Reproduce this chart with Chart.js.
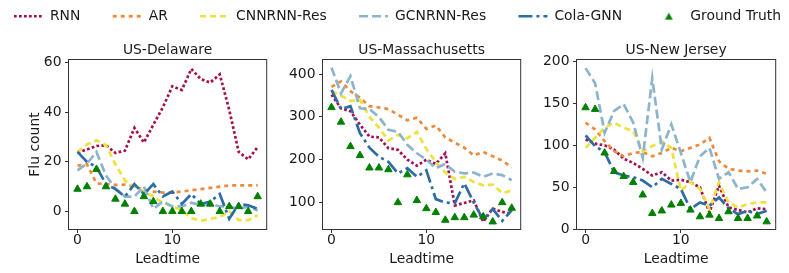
<!DOCTYPE html>
<html>
<head>
<meta charset="utf-8">
<script src="https://cdn.jsdelivr.net/npm/chart.js@4.4.0/dist/chart.umd.min.js"></script>
<style>
  body { margin: 0; background: #fff; }
  #wrap { position: relative; width: 789px; height: 273px; overflow: hidden; }
  canvas { position: absolute; }
</style>
</head>
<body>
<div id="wrap">
  <canvas id="legend" width="843" height="90" style="left:-24px;top:-23px"></canvas>
  <canvas id="c0" width="272" height="233" style="left:0;top:40px"></canvas>
  <canvas id="c1" width="254" height="233" style="left:272px;top:40px"></canvas>
  <canvas id="c2" width="255" height="233" style="left:526px;top:40px"></canvas>
</div>
<script>
// x values (leadtime)
var leadtime = [0, 1, 2, 3, 4, 5, 6, 7, 8, 9, 10, 11, 12, 13, 14, 15, 16, 17, 18, 19];
var seriesNames = ['RNN', 'AR', 'CNNRNN-Res', 'GCNRNN-Res', 'Cola-GNN', 'Ground Truth'];
var regionNames = ['US-Delaware', 'US-Massachusetts', 'US-New Jersey'];

// US-Delaware
var deRNN    = [23.8, 25, 26.4, 26.7, 23.6, 24.5, 33.7, 27.8, 35, 42, 50.5, 49, 57.5, 53.4, 52, 55.3, 41, 24, 21, 26];
var deAR     = [18.5, 19, 11.3, 11, 10.7, 10.8, 10, 8.8, 8, 7.6, 7.6, 8, 8.5, 9, 9.5, 10, 10.5, 10.5, 10.5, 10.5];
var deCNNRNN = [24, 27, 28.7, 26.7, 19, 12.5, 10, 8, 6, 3.5, 2, 0.5, -2.7, -3.8, -3, -2.3, 0, -3.5, -3.5, -1.5];
var deGCNRNN = [16.6, 19.3, 24, 14.5, 9.2, 6, 6, 10, 1, 4, 2, 2, 3.5, 2.5, 3, 2, 2, 1, 2, 0.4];
var deCola   = [24, 20, 18, 11, 9, 6, 11, 7, 11, 6, 8, 3, 7, 3, 4, 7, -3, 3, 2.5, 1];
var deTruth  = [9, 10, 17, 10, 5, 3, 0, 6, 4, 0, 0, 0, 0, 3, 3, 0, 2, 2, 0, 6];

// US-Massachusetts
var maRNN    = [352, 320, 313, 282, 254, 252, 227, 223, 200, 186, 200, 190, 215, 93, 99, 105, 55, 86, 78, 74];
var maAR     = [370, 383, 360, 345, 325, 322, 318, 305, 292, 298, 272, 280, 252, 240, 228, 210, 218, 208, 198, 182];
var maCNNRNN = [360, 350, 337, 340, 300, 275, 245, 258, 250, 265, 225, 195, 170, 155, 160, 148, 140, 142, 122, 128];
var maGCNRNN = [415, 355, 395, 320, 318, 300, 270, 265, 235, 215, 200, 180, 190, 172, 168, 170, 160, 168, 164, 152];
var maCola   = [363, 318, 325, 262, 228, 207, 195, 168, 180, 160, 175, 108, 100, 98, 145, 100, 60, 85, 57, 82];
var maTruth  = [322, 288, 231, 210, 181, 181, 177, 100, 165, 105, 86, 77, 59, 65, 65, 71, 67, 55, 100, 87];

// US-New Jersey
var njRNN    = [107, 102, 100, 95, 84, 79, 72, 64, 68, 58, 59, 56, 50, 20, 52, 26, 23, 20, 25, 24];
var njAR     = [127, 119, 105, 93, 87, 91, 92, 87, 91, 97, 93, 97, 101, 109, 81, 72, 70, 69, 70, 66];
var njCNNRNN = [97, 109, 121, 127, 121, 117, 93, 99, 105, 97, 46, 56, 48, 24, 56, 32, 26, 30, 32, 32];
var njGCNRNN = [192, 174, 115, 141, 149, 127, 85, 180, 95, 125, 91, 56, 87, 97, 60, 68, 48, 50, 60, 44];
var njCola   = [112, 99, 92, 68, 64, 62, 58, 50, 60, 54, 48, 24, 32, 28, 38, 25, 18, 22, 18, 22];
var njTruth  = [145, 143, 91, 69, 63, 56, 41, 19, 22, 29, 31, 23, 15, 17, 13, 21, 13, 13, 16, 9];

// tick labels
var xTicks = [0, 10];
var deTicks = [0, 20, 40, 60];
var maTicks = [100, 200, 300, 400];
var njTicks = [0, 50, 100, 150, 200];

Chart.defaults.font.family = 'DejaVu Sans';
Chart.defaults.font.size = 13.9;
Chart.defaults.color = '#1a1a1a';

var FS = 13.9;
var styles = [
  { borderColor: '#a50f4f', borderWidth: 2.7, borderDash: [2.7, 2.3] },
  { borderColor: '#f08a3b', borderWidth: 2.7, borderDash: [4, 4] },
  { borderColor: '#ece23e', borderWidth: 2.7, borderDash: [6, 4] },
  { borderColor: '#8cb4cc', borderWidth: 2.7, borderDash: [9, 4] },
  { borderColor: '#2e6da4', borderWidth: 2.7, borderDash: [14, 4, 3, 4] }
];
var truthColor = '#008000';

function makeDatasets(lines, truth, withOrder) {
  var ds = lines.map(function (vals, i) {
    var d = {
      label: seriesNames[i],
      data: vals,
      borderColor: styles[i].borderColor,
      backgroundColor: styles[i].borderColor,
      borderWidth: styles[i].borderWidth,
      borderDash: styles[i].borderDash,
      pointStyle: 'line',
      pointRadius: 0,
      pointHoverRadius: 0,
      tension: 0,
      fill: false
    };
    if (withOrder) d.order = 10 - i;
    return d;
  });
  var t = {
    label: seriesNames[5],
    data: truth,
    showLine: false,
    pointStyle: 'triangle',
    pointRadius: 4.3,
    pointHoverRadius: 4.3,
    pointBorderWidth: 1,
    borderWidth: 1,
    borderColor: truthColor,
    backgroundColor: truthColor,
    pointBackgroundColor: truthColor,
    pointBorderColor: truthColor
  };
  if (withOrder) t.order = 0;
  ds.push(t);
  return ds;
}

var framePlugin = {
  id: 'frame',
  afterDatasetsDraw: function (chart) {
    var a = chart.chartArea, ctx = chart.ctx;
    ctx.save();
    ctx.strokeStyle = '#333';
    ctx.lineWidth = 1;
    ctx.strokeRect(a.left, a.top, a.right - a.left, a.bottom - a.top);
    ctx.restore();
  }
};

function makePanel(id, title, lines, truth, yTicks, yMin, yMax, yWidth, padRight, yTitle) {
  new Chart(document.getElementById(id), {
    type: 'line',
    data: { labels: leadtime, datasets: makeDatasets(lines, truth, true) },
    plugins: [framePlugin],
    options: {
      responsive: false,
      animation: false,
      devicePixelRatio: 1,
      layout: { padding: { left: 0, right: padRight, top: 0, bottom: 0 } },
      plugins: {
        legend: { display: false },
        tooltip: { enabled: false },
        title: {
          display: true, text: title, color: '#1a1a1a', fullSize: false,
          font: { size: FS, weight: 'normal' },
          padding: { top: 2.5, bottom: 0.32 }
        }
      },
      scales: {
        x: {
          type: 'linear', min: -0.95, max: 19.95,
          afterBuildTicks: function (s) { s.ticks = xTicks.map(function (v) { return { value: v }; }); },
          afterFit: function (s) { s.height = 43.5; },
          grid: { drawOnChartArea: false, drawTicks: true, tickLength: 3.5, color: '#333' },
          border: { display: false },
          ticks: { padding: 0, maxRotation: 0, color: '#1a1a1a', font: { size: FS, lineHeight: 1 } },
          title: { display: true, text: 'Leadtime', color: '#1a1a1a', font: { size: FS }, padding: { top: 0, bottom: 4.8 } }
        },
        y: {
          min: yMin, max: yMax,
          afterBuildTicks: function (s) { s.ticks = yTicks.map(function (v) { return { value: v }; }); },
          afterFit: function (s) { s.width = yWidth; },
          grid: { drawOnChartArea: false, drawTicks: true, tickLength: 3.5, color: '#333' },
          border: { display: false },
          ticks: { padding: 3.5, color: '#1a1a1a', font: { size: FS } },
          title: { display: !!yTitle, text: yTitle || '', color: '#1a1a1a', font: { size: FS }, padding: { top: 26.6, bottom: 0 } }
        }
      }
    }
  });
}

makePanel('c0', regionNames[0], [deRNN, deAR, deCNNRNN, deGCNRNN, deCola], deTruth, deTicks, -7.3, 61.3, 68.5, 4.5, 'Flu count');
makePanel('c1', regionNames[1], [maRNN, maAR, maCNNRNN, maGCNRNN, maCola], maTruth, maTicks, 37, 434, 50.5, 4, null);
makePanel('c2', regionNames[2], [njRNN, njAR, njCNNRNN, njGCNRNN, njCola], njTruth, njTicks, -0.3, 202.3, 50.5, 4.5, null);

// small triangle marker for the legend (the built-in one stretches to pointStyleWidth)
var triIcon = document.createElement('canvas');
triIcon.width = 9; triIcon.height = 8;
(function () {
  var c = triIcon.getContext('2d');
  c.fillStyle = truthColor;
  c.beginPath();
  c.moveTo(4.5, 0.5); c.lineTo(8.5, 7.5); c.lineTo(0.5, 7.5);
  c.closePath();
  c.fill();
})();

// shared legend along the top
new Chart(document.getElementById('legend'), {
  type: 'line',
  data: { labels: [], datasets: makeDatasets([[], [], [], [], []], [], false) },
  options: {
    responsive: false,
    animation: false,
    devicePixelRatio: 1,
    scales: { x: { display: false }, y: { display: false } },
    plugins: {
      tooltip: { enabled: false },
      legend: {
        display: true, position: 'top', align: 'center',
        labels: {
          usePointStyle: true, pointStyleWidth: 29, boxHeight: 6, padding: 32.3,
          color: '#1a1a1a', font: { size: FS },
          generateLabels: function (chart) {
            var items = Chart.defaults.plugins.legend.labels.generateLabels(chart);
            items.forEach(function (it) {
              var ds = chart.data.datasets[it.datasetIndex];
              it.lineDash = ds.borderDash || [];
              it.lineWidth = ds.borderWidth;
              it.strokeStyle = ds.borderColor;
              it.fillStyle = ds.backgroundColor;
              if (ds.pointStyle === 'triangle') it.pointStyle = triIcon;
            });
            return items;
          }
        }
      }
    }
  }
});
</script>
</body>
</html>
